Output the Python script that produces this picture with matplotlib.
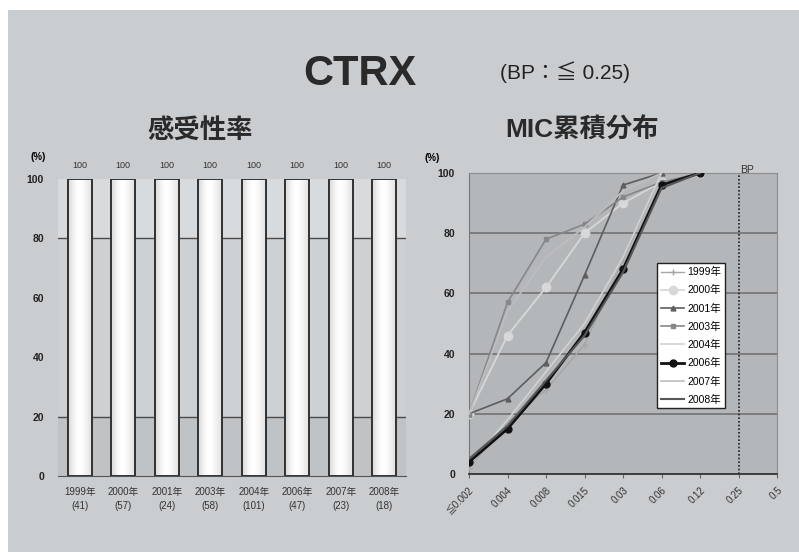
import numpy as np
import matplotlib
matplotlib.use("Agg")
import matplotlib.pyplot as plt
from matplotlib.patches import Rectangle

plt.rcParams['font.family'] = ['Liberation Sans', 'Noto Sans CJK JP', 'DejaVu Sans']

# susceptibility by year
years = ['1999年', '2000年', '2001年', '2003年', '2004年', '2006年', '2007年', '2008年']
n_isolates = [41, 57, 24, 58, 101, 47, 23, 18]
susceptible = [100, 100, 100, 100, 100, 100, 100, 100]

# cumulative MIC distribution (%)
mic_labels = ['≦0.002', '0.004', '0.008', '0.015', '0.03', '0.06', '0.12', '0.25', '0.5']
mic_1999 = [2, 17, 28, 43, 71, 100]
mic_2000 = [20, 46, 62, 80, 90, 97, 100]
mic_2001 = [20, 25, 37, 66, 96, 100]
mic_2003 = [20, 57, 78, 83, 92, 97, 100]
mic_2004 = [3, 18, 34, 50, 72, 100]
mic_2006 = [4, 15, 30, 47, 68, 96, 100]
mic_2007 = [20, 54, 72, 82, 94, 100]
mic_2008 = [5, 16, 31, 46, 67, 95, 100]
bp_index = 7

W, H = 799, 552
fig = plt.figure(figsize=(W / 100, H / 100), dpi=100, facecolor='white')

def box(x0, y0, x1, y1):
    return [x0 / W, 1 - y1 / H, (x1 - x0) / W, (y1 - y0) / H]

# slide background
fig.patches.append(Rectangle((8 / W, 0), 1, 1 - 10 / H, transform=fig.transFigure,
                             facecolor='#c9cdcf', edgecolor='none', zorder=-10))

fig.text(360 / W, 1 - 74 / H, 'CTRX', fontsize=30, fontweight='bold', ha='center',
         va='center', color='#2a2a2a')
fig.text(565 / W, 1 - 72 / H, '(BP：≦ 0.25)', fontsize=15, ha='center', va='center', color='#222222')
fig.text(200 / W, 1 - 130 / H, '感受性率', fontsize=19, fontweight='bold', ha='center',
         va='center', color='#2a2a2a', family='Noto Sans CJK JP')
fig.text(582 / W, 1 - 130 / H, 'MIC累積分布', fontsize=19, fontweight='bold', ha='center',
         va='center', color='#2a2a2a', family=['Liberation Sans', 'Noto Sans CJK JP'])

# ---- left: susceptibility bars ----
ax1 = fig.add_axes(box(58, 179, 406, 476))
x = np.arange(len(years))
ax1.axhspan(0, 20, color='#bfc3c5', zorder=0)
ax1.axhspan(20, 80, color='#cdd1d3', zorder=0)
ax1.axhspan(80, 100, color='#d8dbdd', zorder=0)
for g in (20, 80):
    ax1.axhline(g, color='#4a4a4a', lw=1.0, zorder=1)

bw = 0.55
bars = ax1.bar(x, susceptible, width=bw, facecolor='#eceeef', edgecolor='#333333',
               lw=1.3, zorder=2)
grad = np.array([[0.86, 0.94, 0.99, 1.0, 0.98, 0.94, 0.89]])
for b in bars:
    ax1.imshow(grad, cmap='gray', vmin=0, vmax=1, aspect='auto', interpolation='bicubic',
               extent=(b.get_x(), b.get_x() + bw, 0, b.get_height()), zorder=2.5)
    ax1.add_patch(Rectangle((b.get_x(), 0), bw, b.get_height(), fill=False,
                            edgecolor='#333333', lw=1.4, zorder=3))
    ax1.text(b.get_x() + bw / 2, b.get_height() + 3, f'{b.get_height():.0f}',
             ha='center', va='bottom', fontsize=6.5, color='#333333')
ax1.set_xlim(-0.5, len(years) - 0.5)
ax1.set_ylim(0, 100)
ax1.set_xticks(x)
ax1.set_xticklabels([f'{y}\n({n})' for y, n in zip(years, n_isolates)],
                    fontsize=7, color='#333333', linespacing=1.5)
ax1.set_yticks(range(0, 101, 20))
ax1.tick_params(axis='y', labelsize=7.5, length=0, pad=10, labelcolor='#222222')
ax1.tick_params(axis='x', length=0, pad=8)
for lab in ax1.get_yticklabels():
    lab.set_fontweight('bold')
for s in ax1.spines.values():
    s.set_visible(False)
ax1.spines['bottom'].set_visible(True)
ax1.spines['bottom'].set_color('#555555')
fig.text(38 / W, 1 - 157 / H, '(%)', fontsize=7, fontweight='bold', ha='center', va='center')

# ---- right: cumulative MIC lines ----
ax2 = fig.add_axes(box(469, 173, 777, 474))
ax2.set_facecolor('#b3b7b9')
ax2.set_xlim(0, len(mic_labels) - 1)
ax2.set_ylim(0, 100)
for g in range(20, 101, 20):
    ax2.axhline(g, color='#6a6c6e', lw=1.1, zorder=1)
ax2.axvline(bp_index, color='#222222', lw=1.2, ls=(0, (1, 1.2)), zorder=2)
ax2.text(bp_index + 0.05, 101, 'BP', fontsize=7.5, ha='left', va='center', color='#333333')

series = [
    ('1999年', mic_1999, dict(color='#a4a6a8', marker='+', ms=5, lw=1.0)),
    ('2000年', mic_2000, dict(color='#d6d8d9', marker='o', ms=6, lw=1.3)),
    ('2001年', mic_2001, dict(color='#5c5e60', marker='^', ms=3.5, lw=1.2)),
    ('2003年', mic_2003, dict(color='#85878a', marker='s', ms=3.5, lw=1.2)),
    ('2004年', mic_2004, dict(color='#d0d2d3', lw=1.2)),
    ('2006年', mic_2006, dict(color='#111111', marker='o', ms=5, lw=2.0)),
    ('2007年', mic_2007, dict(color='#bcbec0', lw=1.2)),
    ('2008年', mic_2008, dict(color='#555759', lw=1.5)),
]
for name, vals, style in series:
    ax2.plot(np.arange(len(vals)), vals, label=name, zorder=3, **style)

ax2.set_xticks(range(len(mic_labels)))
ax2.set_xticklabels(mic_labels, rotation=45, ha='right', rotation_mode='anchor',
                    fontsize=7, color='#333333')
ax2.set_yticks(range(0, 101, 20))
ax2.tick_params(axis='y', labelsize=7.5, length=0, pad=10, labelcolor='#222222')
ax2.tick_params(axis='x', length=3, color='#666666', pad=5)
for lab in ax2.get_yticklabels():
    lab.set_fontweight('bold')
for s in ('top', 'right'):
    ax2.spines[s].set_color('#8a8c8e')
ax2.spines['left'].set_color('#777777')
ax2.spines['bottom'].set_color('#333333')
ax2.spines['bottom'].set_linewidth(1.3)
fig.text(432 / W, 1 - 158 / H, '(%)', fontsize=7, fontweight='bold', ha='center', va='center')

leg = ax2.legend(loc='lower left', bbox_to_anchor=(0.612, 0.218), fontsize=7.5,
                 frameon=True, fancybox=False, edgecolor='#222222', framealpha=1,
                 handlelength=2.2, handletextpad=0.3, labelspacing=0.78,
                 borderpad=0.35, borderaxespad=0)
leg.get_frame().set_linewidth(1.0)
leg.set_zorder(5)

fig.savefig('out.png', dpi=100, facecolor=fig.get_facecolor())
